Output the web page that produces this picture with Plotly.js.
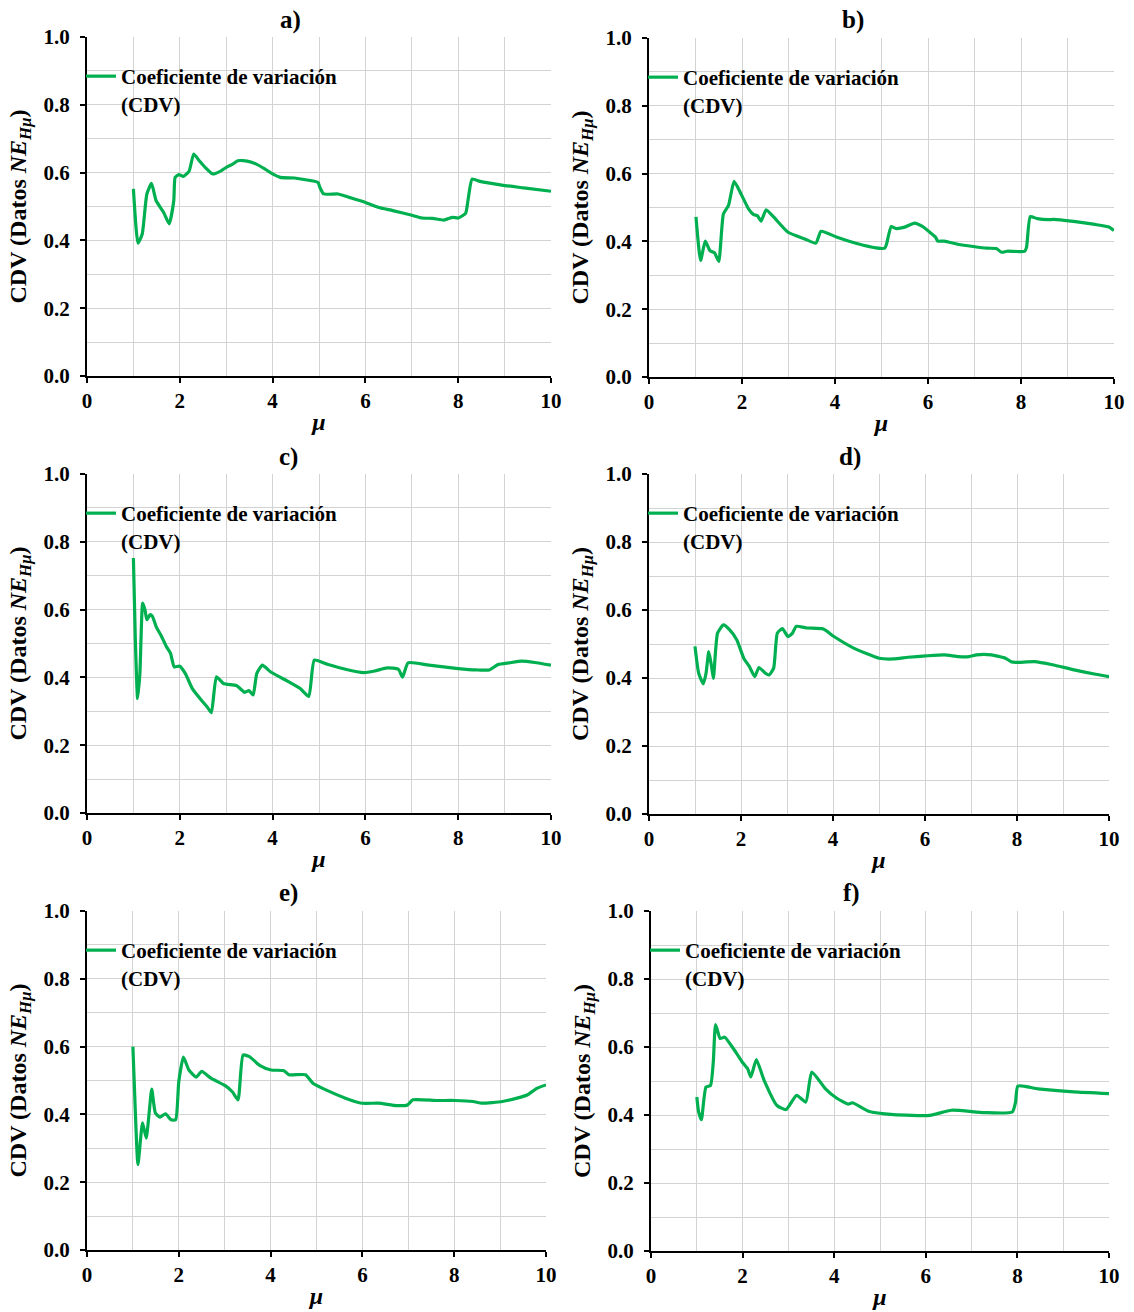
<!DOCTYPE html>
<html>
<head>
<meta charset="utf-8">
<script src="https://cdn.plot.ly/plotly-3.0.1.min.js"></script>
<style>html,body{margin:0;padding:0;background:#fff;}#chart{width:1134px;height:1312px;}</style>
</head>
<body>
<div id="chart"></div>
<script>
// ---- Data ----
const aX = [1.0,1.10,1.19,1.29,1.39,1.49,1.65,1.77,1.87,1.90,1.98,2.08,2.20,2.30,2.42,2.55,2.71,2.86,3.02,3.14,3.25,3.45,3.65,3.84,4.0,4.16,4.47,4.71,4.98,5.02,5.10,5.41,5.65,5.96,6.27,6.59,6.98,7.22,7.45,7.69,7.88,8.0,8.16,8.21,8.30,8.47,8.94,9.41,10.0];
const aY = [0.552,0.392,0.419,0.537,0.568,0.517,0.483,0.449,0.517,0.586,0.594,0.589,0.604,0.655,0.635,0.615,0.596,0.603,0.617,0.625,0.635,0.634,0.625,0.610,0.596,0.586,0.584,0.579,0.571,0.556,0.537,0.537,0.527,0.514,0.498,0.488,0.475,0.466,0.465,0.460,0.468,0.466,0.480,0.517,0.581,0.574,0.563,0.555,0.545];

const bX = [1.01,1.11,1.21,1.31,1.41,1.50,1.60,1.71,1.83,1.98,2.14,2.25,2.33,2.41,2.52,2.68,2.99,3.34,3.59,3.70,4.03,4.49,4.88,5.07,5.11,5.21,5.31,5.50,5.71,5.88,6.04,6.16,6.21,6.35,6.66,6.97,7.27,7.47,7.58,7.70,8.08,8.12,8.20,8.35,8.59,8.70,9.13,9.59,9.90,10.0];
const bY = [0.472,0.344,0.401,0.373,0.366,0.341,0.481,0.506,0.577,0.540,0.496,0.479,0.476,0.460,0.493,0.472,0.427,0.408,0.395,0.430,0.413,0.393,0.381,0.380,0.393,0.444,0.438,0.442,0.454,0.444,0.427,0.413,0.401,0.401,0.391,0.385,0.380,0.379,0.368,0.371,0.371,0.383,0.473,0.467,0.464,0.465,0.459,0.450,0.442,0.432];

const cX = [1.0,1.04,1.09,1.14,1.20,1.25,1.29,1.36,1.41,1.49,1.61,1.71,1.80,1.88,2.0,2.12,2.27,2.47,2.59,2.68,2.79,2.94,3.22,3.40,3.49,3.58,3.66,3.78,3.96,4.35,4.59,4.78,4.90,5.18,5.57,5.96,6.20,6.47,6.71,6.80,6.92,7.37,8.0,8.39,8.67,8.86,9.10,9.37,9.65,10.0];
const cY = [0.752,0.519,0.338,0.412,0.619,0.599,0.570,0.585,0.580,0.550,0.520,0.491,0.471,0.431,0.433,0.411,0.367,0.332,0.313,0.296,0.402,0.382,0.376,0.356,0.361,0.348,0.412,0.436,0.416,0.387,0.368,0.344,0.451,0.439,0.424,0.414,0.419,0.428,0.424,0.401,0.443,0.436,0.426,0.422,0.422,0.438,0.443,0.448,0.444,0.436];

const dX = [1.0,1.08,1.18,1.24,1.30,1.36,1.40,1.49,1.62,1.75,1.91,2.06,2.18,2.30,2.39,2.53,2.61,2.71,2.79,2.90,3.02,3.12,3.20,3.44,3.79,4.02,4.45,5.0,5.32,5.63,6.02,6.42,6.73,6.96,7.12,7.44,7.75,7.87,7.98,8.38,8.77,9.24,9.71,10.0];
const dY = [0.493,0.414,0.383,0.414,0.478,0.434,0.399,0.532,0.556,0.542,0.512,0.458,0.434,0.404,0.431,0.414,0.409,0.429,0.532,0.545,0.522,0.532,0.552,0.547,0.544,0.522,0.488,0.458,0.456,0.461,0.465,0.468,0.463,0.463,0.468,0.468,0.458,0.448,0.446,0.448,0.439,0.424,0.411,0.404];

const eX = [1.0,1.05,1.11,1.21,1.29,1.35,1.41,1.49,1.59,1.71,1.83,1.93,2.0,2.10,2.22,2.38,2.50,2.70,3.02,3.17,3.29,3.40,3.53,3.77,4.01,4.29,4.40,4.76,4.92,5.24,5.63,5.99,6.35,6.75,6.98,7.10,7.62,8.02,8.41,8.61,9.05,9.37,9.60,9.80,10.0];
const eY = [0.600,0.418,0.252,0.375,0.330,0.399,0.475,0.404,0.392,0.402,0.384,0.384,0.497,0.569,0.531,0.510,0.527,0.507,0.484,0.466,0.443,0.575,0.571,0.544,0.531,0.529,0.517,0.517,0.492,0.470,0.448,0.433,0.433,0.426,0.428,0.443,0.441,0.441,0.438,0.433,0.438,0.448,0.458,0.477,0.487];

const fX = [1.0,1.04,1.10,1.20,1.30,1.36,1.41,1.51,1.61,1.85,1.99,2.11,2.18,2.30,2.47,2.75,2.95,3.18,3.38,3.51,3.81,4.05,4.30,4.40,4.75,5.30,6.09,6.56,7.27,7.89,7.96,8.01,8.45,9.23,10.0];
const fY = [0.453,0.409,0.386,0.482,0.487,0.556,0.666,0.625,0.629,0.585,0.556,0.536,0.512,0.563,0.502,0.428,0.416,0.458,0.438,0.526,0.477,0.450,0.432,0.436,0.411,0.401,0.399,0.414,0.407,0.409,0.438,0.485,0.477,0.468,0.463];

const panelLabels = ['a)','b)','c)','d)','e)','f)'];
const seriesName = 'Coeficiente de variación<br>(CDV)';
const xTickVals = [0,2,4,6,8,10];
const yTickVals = [0,0.2,0.4,0.6,0.8,1.0];
const yTickText = ['0.0','0.2','0.4','0.6','0.8','1.0'];
const xTitle = '<b><i>μ</i></b>';
const yTitle = '<b>CDV (Datos <i>NE</i><sub><i>Hμ</i></sub>)</b>';

// ---- Layout geometry (pixels) ----
const W = 1134, H = 1312;
const geom = [
  {px:[87,551],  py:[37,376],  t:[290,20]},
  {px:[649,1114],py:[38,377],  t:[853,20]},
  {px:[87,551],  py:[474,813], t:[288,457]},
  {px:[649,1109],py:[474,814], t:[850,457]},
  {px:[87,546],  py:[911,1250],t:[288,893]},
  {px:[651,1109],py:[911,1251],t:[851,893]}
];
const data = [[aX,aY],[bX,bY],[cX,cY],[dX,dY],[eX,eY],[fX,fY]];

const SERIF = 'Liberation Serif, Times New Roman, serif';
const GREEN = '#00b050';
const GRID = '#d3d3d3';

const traces = [];
const layout = {
  width: W, height: H,
  margin: {l:0, r:0, t:0, b:0},
  paper_bgcolor: '#ffffff', plot_bgcolor: '#ffffff',
  font: {family: SERIF, color: '#000'},
  annotations: [],
  showlegend: true
};

geom.forEach((g, i) => {
  const n = i === 0 ? '' : String(i + 1);
  const xa = 'x' + n, ya = 'y' + n;
  const lg = 'legend' + n;
  traces.push({
    type: 'scatter', mode: 'lines',
    x: data[i][0], y: data[i][1],
    xaxis: xa, yaxis: ya,
    name: seriesName, legend: lg,
    line: {color: GREEN, width: 3.2, shape: 'spline', smoothing: 0.5},
    hoverinfo: 'skip'
  });
  layout['xaxis' + n] = {
    domain: [g.px[0] / W, g.px[1] / W], anchor: ya,
    range: [0, 10], tickvals: xTickVals, ticktext: xTickVals.map(String),
    showgrid: true, gridcolor: GRID, gridwidth: 1,
    minor: {dtick: 1, tick0: 0, showgrid: true, gridcolor: GRID, gridwidth: 1, ticks: ''},
    showline: true, linecolor: '#000', linewidth: 2,
    ticks: 'outside', ticklen: 5, tickwidth: 2, tickcolor: '#000',
    ticklabelstandoff: 0,
    tickfont: {family: SERIF, size: 21, color: '#000', weight: 'bold'},
    title: {text: xTitle, standoff: 1, font: {family: SERIF, size: 24, color: '#000'}},
    zeroline: false, fixedrange: true
  };
  layout['yaxis' + n] = {
    domain: [1 - g.py[1] / H, 1 - g.py[0] / H], anchor: xa,
    range: [0, 1], tickvals: yTickVals, ticktext: yTickText,
    showgrid: true, gridcolor: GRID, gridwidth: 1,
    minor: {dtick: 0.1, tick0: 0, showgrid: true, gridcolor: GRID, gridwidth: 1, ticks: ''},
    showline: true, linecolor: '#000', linewidth: 2,
    ticks: 'outside', ticklen: 5, tickwidth: 2, tickcolor: '#000',
    ticklabelstandoff: 6,
    tickfont: {family: SERIF, size: 21, color: '#000', weight: 'bold'},
    title: {text: yTitle, standoff: 10, font: {family: SERIF, size: 24, color: '#000'}},
    zeroline: false, fixedrange: true
  };
  layout[lg] = {
    x: (g.px[0] - 6) / W, y: 1 - (g.py[0] + 19) / H,
    xanchor: 'left', yanchor: 'top',
    bgcolor: 'rgba(0,0,0,0)', borderwidth: 0,
    valign: 'top',
    font: {family: SERIF, size: 21, color: '#000', weight: 'bold'}
  };
  // panel letter
  layout.annotations.push({
    text: '<b>' + panelLabels[i] + '</b>', xref: 'paper', yref: 'paper',
    x: g.t[0] / W, y: 1 - g.t[1] / H, xanchor: 'center', yanchor: 'middle',
    showarrow: false, font: {family: SERIF, size: 25, color: '#000'}
  });
});

Plotly.newPlot('chart', traces, layout, {staticPlot: true, displayModeBar: false});
</script>
</body>
</html>
